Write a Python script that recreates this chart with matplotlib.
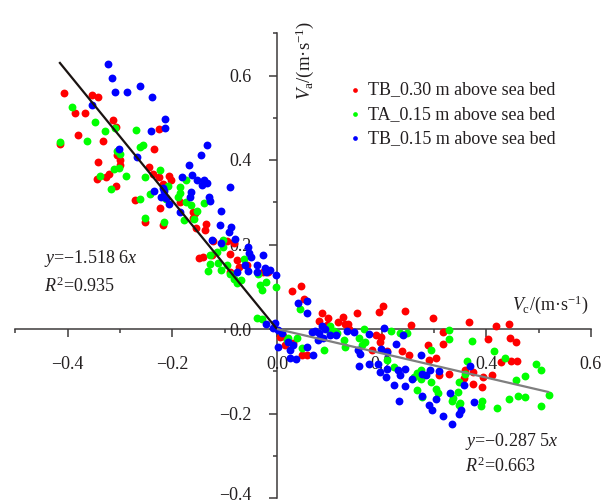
import matplotlib
matplotlib.use("Agg")
import matplotlib.pyplot as plt
import matplotlib.transforms as mtransforms
import numpy as np
from matplotlib.ticker import FixedLocator, FuncFormatter

plt.rcParams['font.family'] = ['Liberation Serif', 'DejaVu Serif']
plt.rcParams['mathtext.fontset'] = 'custom'
plt.rcParams['mathtext.rm'] = 'Liberation Serif'
plt.rcParams['mathtext.it'] = 'Liberation Serif:italic'
plt.rcParams['axes.unicode_minus'] = True

# ---- data: current velocity Vc vs. Va, three sensors ----
tb30_x = [-0.406, -0.354, -0.341, -0.386, -0.366, -0.313, -0.307, -0.380, -0.332, -0.414,
          -0.225, -0.234, -0.305, -0.300, -0.299, -0.341, -0.321, -0.327, -0.343, -0.307,
          -0.245, -0.236, -0.225, -0.206, -0.203, -0.272, -0.217, -0.223, -0.185, -0.160,
          -0.252, -0.218, -0.136, -0.138, -0.155, -0.122, -0.096, -0.148, -0.141, -0.090,
          -0.072, -0.077, -0.017, -0.125, -0.157, -0.083, -0.057, -0.090, -0.026, -0.161,
          0.029, 0.046, 0.052, 0.006, 0.012, 0.057, 0.047, 0.015, 0.031, 0.081,
          0.087, 0.098, 0.095, 0.117, 0.127, 0.130, 0.136, 0.137, 0.152, 0.195,
          0.202, 0.245, 0.256, 0.299, 0.317, 0.367, 0.418, 0.444, 0.190, 0.198,
          0.197, 0.211, 0.238, 0.253, 0.288, 0.291, 0.304, 0.310, 0.318, 0.404,
          0.445, 0.457, 0.448, 0.459, 0.428, 0.410, 0.393, 0.360, 0.375, 0.358,
          0.375, 0.391, 0.329, 0.181]
tb30_y = [0.559, 0.555, 0.548, 0.511, 0.511, 0.494, 0.478, 0.460, 0.444, 0.437,
          0.473, 0.426, 0.413, 0.401, 0.389, 0.395, 0.368, 0.360, 0.356, 0.339,
          0.384, 0.366, 0.360, 0.362, 0.353, 0.305, 0.343, 0.287, 0.301, 0.277,
          0.253, 0.245, 0.248, 0.234, 0.239, 0.208, 0.208, 0.168, 0.171, 0.178,
          0.147, 0.163, 0.135, 0.175, 0.275, 0.203, 0.151, 0.136, 0.136, 0.262,
          0.090, 0.102, 0.070, -0.018, -0.017, -0.062, -0.062, -0.037, -0.032, 0.020,
          0.039, 0.027, 0.009, 0.017, 0.029, 0.013, 0.013, -0.001, 0.039, 0.040,
          0.054, 0.042, 0.009, 0.027, -0.007, 0.017, 0.008, 0.013, -0.014, -0.020,
          -0.030, -0.051, -0.053, -0.062, -0.039, -0.073, -0.068, -0.109, -0.036, -0.024,
          -0.021, -0.031, -0.075, -0.075, -0.079, -0.109, -0.113, -0.097, -0.102, -0.117,
          -0.129, -0.138, -0.107, -0.050]

ta15_x = [-0.391, -0.348, -0.329, -0.309, -0.415, -0.362, -0.269, -0.262, -0.255, -0.306,
          -0.300, -0.301, -0.311, -0.339, -0.289, -0.252, -0.223, -0.318, -0.262, -0.242,
          -0.208, -0.174, -0.185, -0.185, -0.189, -0.212, -0.174, -0.165, -0.139, -0.153,
          -0.178, -0.158, -0.252, -0.215, -0.104, -0.103, -0.128, -0.112, -0.127, -0.132,
          -0.106, -0.090, -0.083, -0.077, -0.032, -0.021, -0.028, -0.002, -0.039, -0.029,
          -0.063, -0.115, -0.069, -0.036, -0.096,
          0.022, 0.038, 0.019, 0.047, 0.044, 0.090, 0.101, 0.114, 0.129, 0.101,
          0.109, 0.130, 0.167, 0.157, 0.169, 0.162, 0.218, 0.236, 0.248, 0.224,
          0.210, 0.294, 0.261, 0.275, 0.267, 0.276, 0.294, 0.304, 0.267, 0.278,
          0.329, 0.328, 0.372, 0.415, 0.436, 0.364, 0.347, 0.334, 0.348, 0.350,
          0.337, 0.346, 0.391, 0.389, 0.420, 0.443, 0.460, 0.474, 0.457, 0.474,
          0.495, 0.505, 0.520, 0.505, 0.360, 0.308]
ta15_y = [0.525, 0.489, 0.468, 0.476, 0.442, 0.445, 0.470, 0.431, 0.435, 0.422,
          0.415, 0.380, 0.379, 0.363, 0.363, 0.360, 0.377, 0.332, 0.308, 0.319,
          0.339, 0.353, 0.335, 0.323, 0.312, 0.308, 0.301, 0.294, 0.298, 0.280,
          0.258, 0.260, 0.262, 0.253, 0.211, 0.195, 0.174, 0.156, 0.153, 0.137,
          0.139, 0.131, 0.119, 0.110, 0.103, 0.111, 0.092, 0.100, 0.026, 0.023,
          0.165, 0.183, 0.116, 0.130, 0.151,
          -0.022, -0.022, -0.026, -0.046, 0.047, -0.050, -0.010, -0.009, -0.026, 0.007,
          -0.005, -0.042, -0.001, -0.021, -0.031, -0.039, -0.005, -0.009, -0.009, -0.090,
          -0.073, -0.050, -0.114, -0.118, -0.103, -0.097, -0.125, -0.141, -0.145, -0.161,
          -0.003, -0.023, -0.029, -0.052, -0.068, -0.076, -0.125, -0.170, -0.181, -0.174,
          -0.164, -0.148, -0.170, -0.182, -0.186, -0.166, -0.159, -0.161, -0.120, -0.112,
          -0.084, -0.096, -0.157, -0.183, -0.107, -0.152]

tb15_x = [-0.322, -0.316, -0.309, -0.287, -0.262, -0.238, -0.354, -0.214, -0.213, -0.241,
          -0.301, -0.267, -0.134, -0.145, -0.168, -0.182, -0.162, -0.153, -0.139, -0.134,
          -0.143, -0.090, -0.164, -0.167, -0.129, -0.128, -0.234, -0.217, -0.215, -0.222,
          -0.212, -0.206, -0.185, -0.106, -0.108, -0.087, -0.091, -0.080, -0.124, -0.106,
          -0.055, -0.053, -0.050, -0.027, -0.061, -0.039, -0.055, -0.039, -0.022, -0.020,
          -0.013, -0.002, -0.020, -0.004, -0.007, -0.077,
          0.041, 0.058, 0.058, 0.009, 0.002, 0.002, 0.025, 0.031, 0.022, 0.025,
          0.036, 0.057, 0.069, 0.073, 0.081, 0.092, 0.088, 0.101, 0.113, 0.134,
          0.148, 0.176, 0.205, 0.240, 0.227, 0.154, 0.159, 0.175, 0.156, 0.199,
          0.210, 0.194, 0.210, 0.208, 0.224, 0.231, 0.245, 0.234, 0.245, 0.258,
          0.275, 0.277, 0.285, 0.292, 0.278, 0.291, 0.296, 0.304, 0.317, 0.334,
          0.348, 0.351, 0.331, 0.358, 0.369, 0.377, 0.197, 0.235, 0.310, 0.067,
          0.078, 0.087]
tb15_y = [0.627, 0.593, 0.560, 0.562, 0.575, 0.549, 0.529, 0.496, 0.476, 0.469,
          0.426, 0.407, 0.436, 0.413, 0.388, 0.360, 0.365, 0.353, 0.352, 0.346,
          0.342, 0.336, 0.324, 0.313, 0.313, 0.302, 0.327, 0.333, 0.326, 0.312,
          0.311, 0.296, 0.276, 0.279, 0.246, 0.241, 0.229, 0.213, 0.211, 0.203,
          0.195, 0.179, 0.170, 0.175, 0.151, 0.151, 0.137, 0.135, 0.145, 0.135,
          0.139, 0.127, 0.013, 0.015, 0.002, 0.136,
          0.061, 0.066, 0.039, -0.010, -0.002, -0.042, -0.050, -0.038, -0.030, -0.069,
          -0.072, -0.043, -0.062, -0.004, -0.009, -0.001, -0.022, -0.014, -0.014, -0.004,
          -0.007, -0.011, 0.002, -0.015, -0.035, -0.050, -0.058, -0.082, -0.088, -0.047,
          -0.054, -0.082, -0.094, -0.114, -0.132, -0.096, -0.094, -0.171, -0.135, -0.118,
          -0.062, -0.106, -0.108, -0.097, -0.159, -0.179, -0.191, -0.165, -0.206, -0.224,
          -0.200, -0.192, -0.151, -0.132, -0.088, -0.173, -0.101, -0.109, -0.099, -0.007,
          -0.027, 0.006]

series_labels = ['TB_0.30 m above sea bed', 'TA_0.15 m above sea bed', 'TB_0.15 m above sea bed']
series_colors = ['#ff0000', '#00ff00', '#0000ff']

# regression fits through the origin
fit_neg_slope, fit_neg_r2 = -1.5186, 0.935
fit_pos_slope, fit_pos_r2 = -0.2875, 0.663
fit_neg_range = [-0.416, 0.0]
fit_pos_range = [0.0, 0.52]

ink = '#231f20'
axis_col = '#3d3a3b'


def minus(s):
    return s.replace('-', '\u2212')


def slope_text(k):
    # four decimals, grouped as 1.518 6
    digits = f'{abs(k):.4f}'
    grouped = digits[:-1] + ' ' + digits[-1]
    sign = '\u2212' if k < 0 else ''
    return f'$y$={sign}{grouped}$x$'


fig = plt.figure(figsize=(6.12, 5.04), dpi=100)
ax = fig.add_axes([15.25 / 612, 6 / 504, 575.75 / 612, 464.75 / 504])
ax.set_xlim(-0.5, 0.6)
ax.set_ylim(-0.4, 0.7)

for xs, ys, lab, col in zip([tb30_x, ta15_x, tb15_x], [tb30_y, ta15_y, tb15_y],
                            series_labels, series_colors):
    ax.scatter(xs, ys, s=32, color=col, linewidths=0, label=lab, zorder=2, clip_on=False)

xn = np.array(fit_neg_range)
xp = np.array(fit_pos_range)
ax.plot(xn, fit_neg_slope * xn, color='#1a1311', lw=1.6, zorder=3, solid_capstyle='butt')
ax.plot(xp, fit_pos_slope * xp, color='#7f7f7f', lw=1.6, zorder=3, solid_capstyle='butt')

# axes crossing at the origin
for side in ['top', 'right']:
    ax.spines[side].set_visible(False)
ax.spines['left'].set_position(('data', 0))
ax.spines['bottom'].set_position(('data', 0))
for side in ['left', 'bottom']:
    ax.spines[side].set_color(axis_col)
    ax.spines[side].set_linewidth(1.1)
    ax.spines[side].set_zorder(1)

ax.xaxis.set_major_locator(FixedLocator([-0.4, -0.2, 0.0, 0.2, 0.4, 0.6]))
ax.xaxis.set_minor_locator(FixedLocator([-0.5, -0.3, -0.1, 0.1, 0.3, 0.5]))
ax.yaxis.set_major_locator(FixedLocator([-0.4, -0.2, 0.0, 0.2, 0.4, 0.6]))
ax.yaxis.set_minor_locator(FixedLocator([-0.3, -0.1, 0.1, 0.3, 0.5, 0.7]))
ax.xaxis.set_major_formatter(FuncFormatter(lambda v, p: minus(f'{v:.1f}')))
ax.yaxis.set_major_formatter(FuncFormatter(lambda v, p: minus(f'{v:.1f}')))

ax.tick_params(axis='x', which='major', direction='out', length=5.5, width=1.1,
               color=axis_col, labelcolor=ink, labelsize=13, pad=14)
ax.tick_params(axis='x', which='minor', direction='out', length=3, width=1.1, color=axis_col)
ax.tick_params(axis='y', which='major', direction='out', length=5.5, width=1.1,
               color=axis_col, labelcolor=ink, labelsize=13, pad=13)
ax.tick_params(axis='y', which='minor', direction='out', length=3, width=1.1, color=axis_col)
ax.set_facecolor('none')

# lift the lowest y tick label a little so it stays inside the figure
fig.canvas.draw()
for tick in ax.yaxis.get_major_ticks():
    if abs(tick.get_loc() + 0.4) < 1e-9:
        lbl = tick.label1
        lbl.set_transform(lbl.get_transform() +
                          mtransforms.ScaledTranslation(0, 3 / 72, fig.dpi_scale_trans))

# axis titles
ax.text(0.0535, 0.635, r'$V_\mathrm{a}$/(m·s$^{-1}$)', rotation=90, ha='center', va='center',
        fontsize=13.5, color=ink, clip_on=False)
ax.text(0.522, 0.057, r'$V_\mathrm{c}$/(m·s$^{-1}$)', ha='center', va='center',
        fontsize=13, color=ink, clip_on=False)

# regression equations
ax.text(-0.445, 0.166, slope_text(fit_neg_slope), ha='left', va='center', fontsize=13, color=ink)
ax.text(-0.445, 0.102, f'$R^2$={fit_neg_r2:.3f}', ha='left', va='center', fontsize=13, color=ink)
ax.text(0.359, -0.267, slope_text(fit_pos_slope), ha='left', va='center', fontsize=13, color=ink)
ax.text(0.359, -0.324, f'$R^2$={fit_pos_r2:.3f}', ha='left', va='center', fontsize=13, color=ink)

leg = ax.legend(loc='upper left', bbox_to_anchor=(0.5807, 0.896), frameon=False,
                fontsize=13, markerscale=0.6, handlelength=0.6, handletextpad=0.4,
                labelspacing=0.4, borderpad=0, borderaxespad=0, scatterpoints=1)
for t in leg.get_texts():
    t.set_color(ink)

fig.savefig('out.png', dpi=100)
